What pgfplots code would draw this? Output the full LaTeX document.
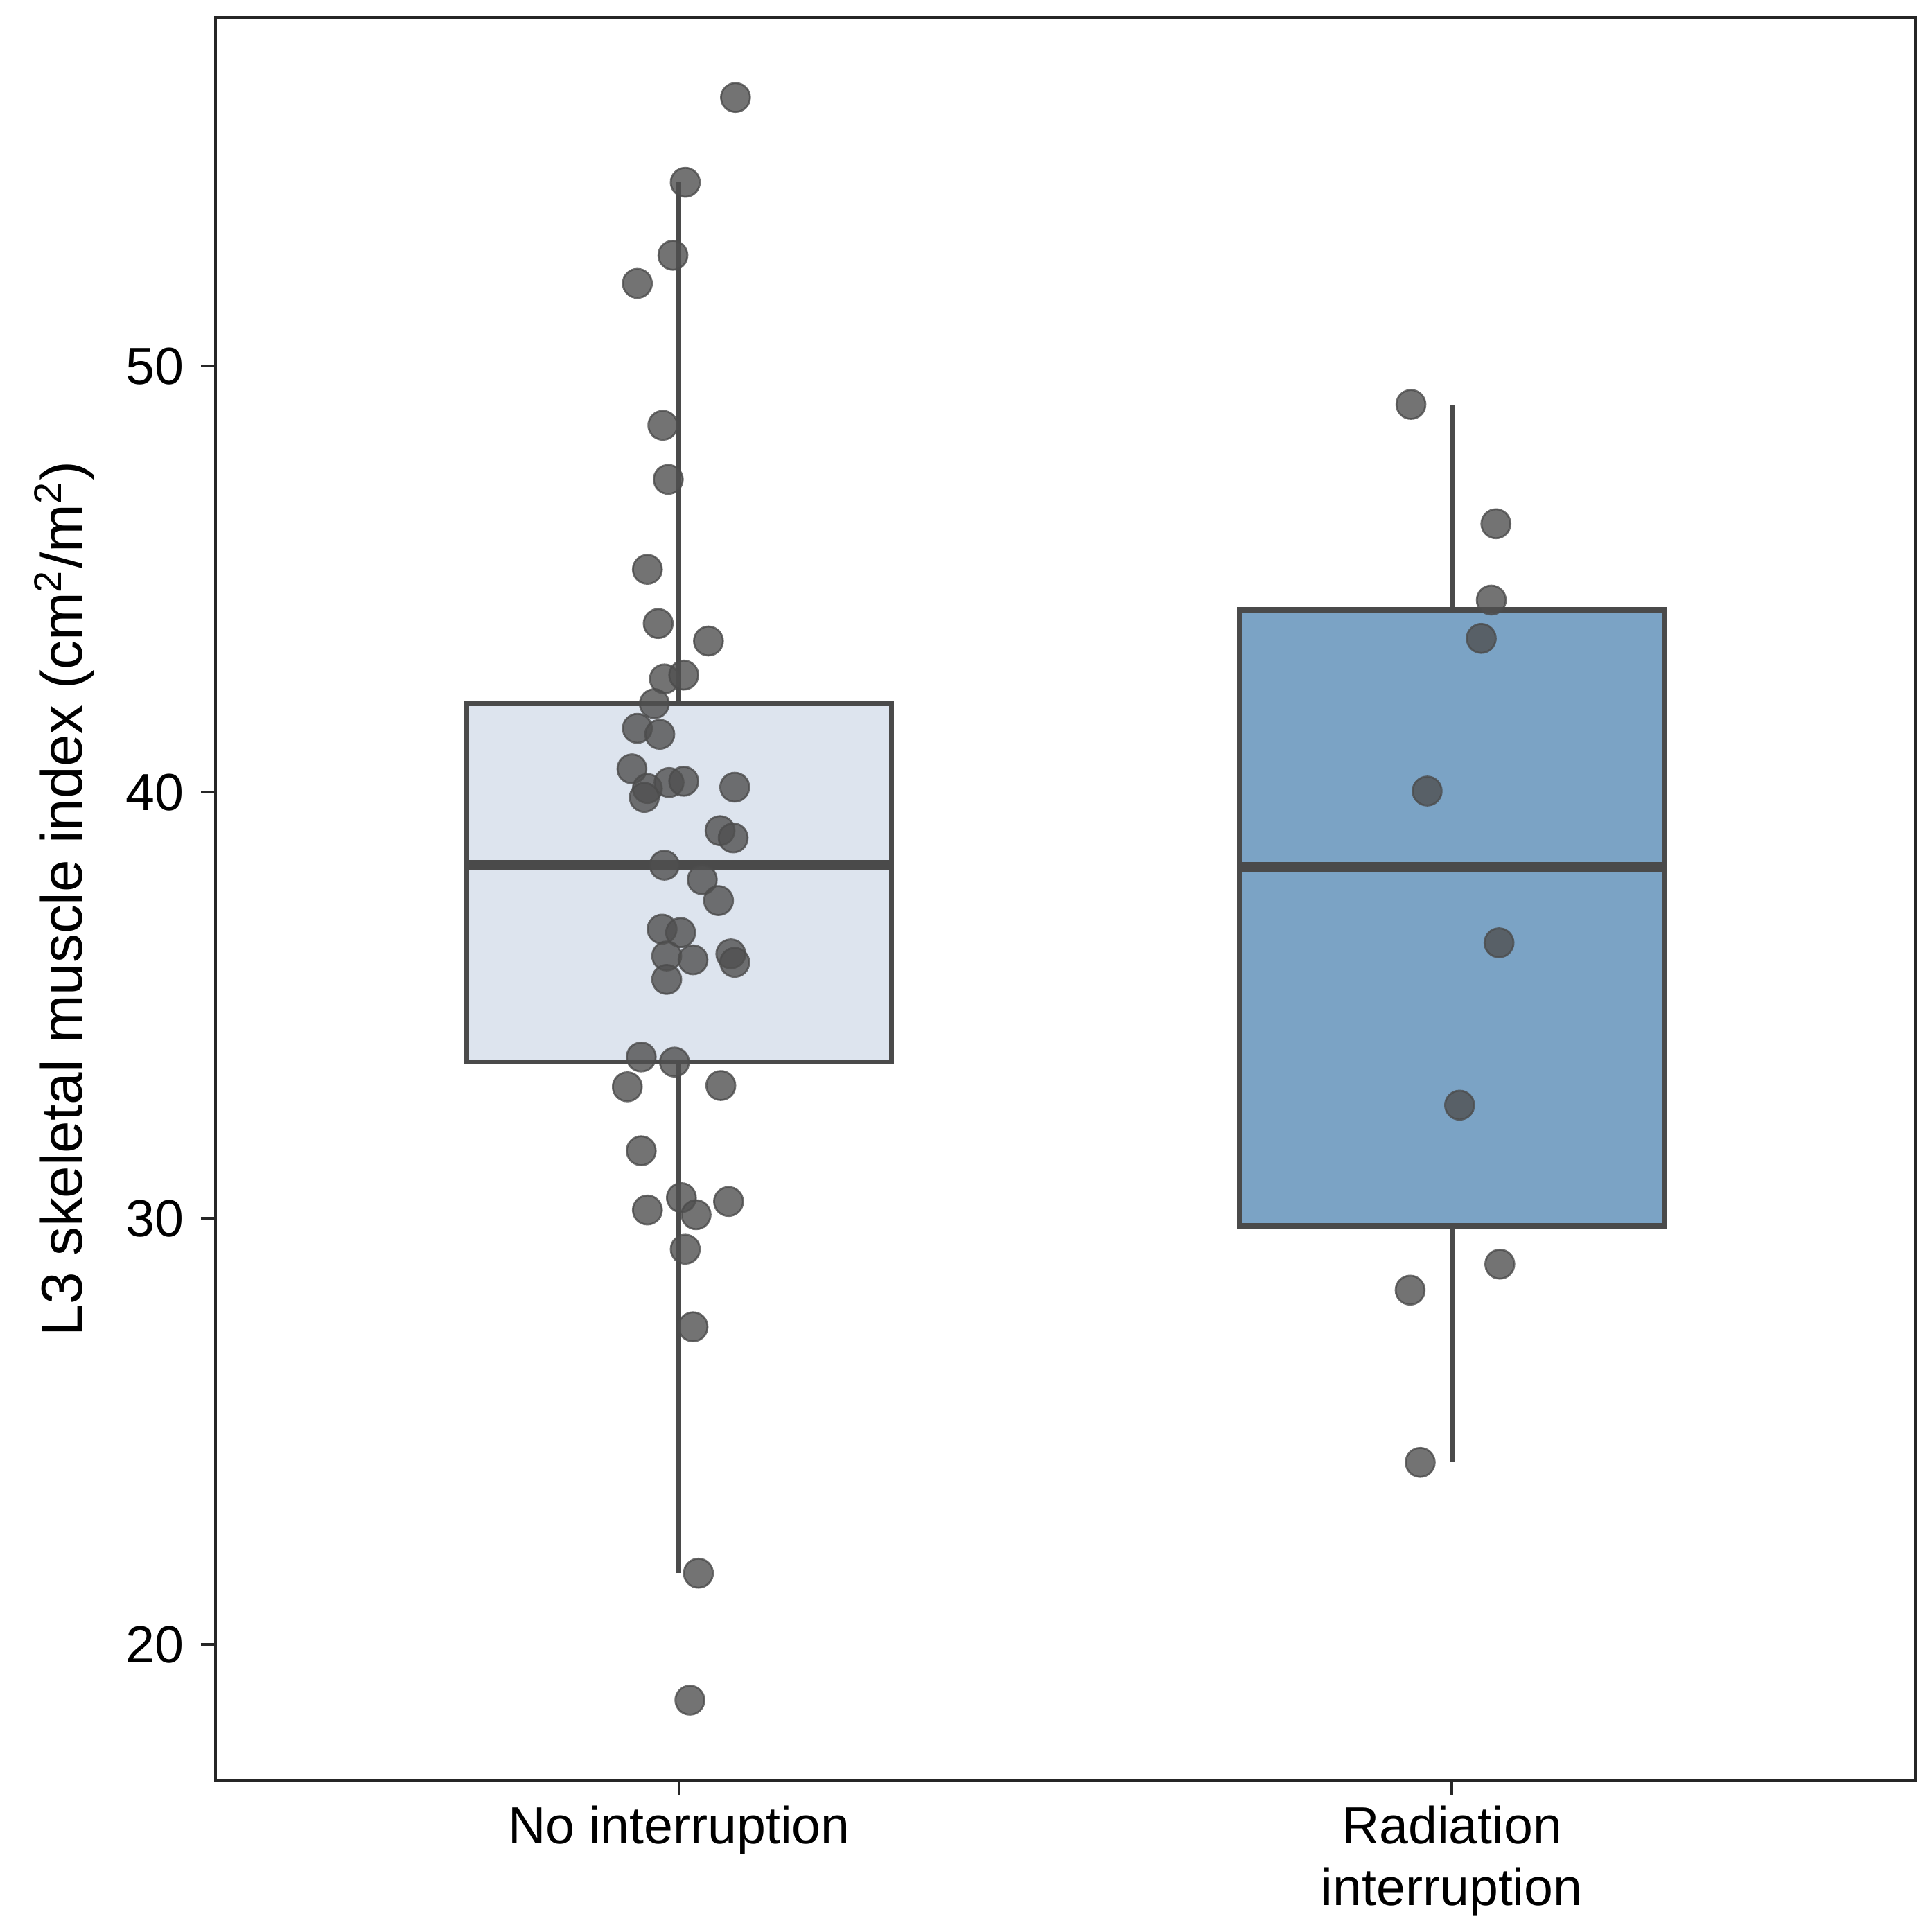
\documentclass[border=0pt]{standalone}
\usepackage{fontspec}
\setmainfont{Liberation Sans}
\usepackage{pgfplots}
\pgfplotsset{compat=1.18}
\definecolor{boxA}{HTML}{DDE4EE}
\definecolor{boxB}{HTML}{7BA3C5}
\definecolor{edge}{HTML}{4A4A4A}
\definecolor{pt}{HTML}{505050}
\begin{document}
\begin{tikzpicture}
\useasboundingbox (-44.6pt,-31.4pt) rectangle (355.4pt,368.6pt);
\begin{axis}[
  scale only axis,
  width=352pt, height=365pt,
  xmin=-0.6, xmax=1.6,
  ymin=16.82, ymax=58.18,
  xtick={0,1},
  xticklabels={No interruption,{Radiation\\interruption}},
  ytick={20,30,40,50},
  xtick pos=bottom, ytick pos=left,
  tick align=outside,
  major tick length=3pt,
  tick style={black!85, line width=0.6pt},
  axis line style={black!85, line width=0.6pt},
  /pgf/number format/assume math mode=true,
  ticklabel style={font=\fontsize{10.8}{12.8}\selectfont},
  xticklabel style={align=center, yshift=1.3pt},
  ylabel={L3 skeletal muscle index (cm\textsuperscript{2}/m\textsuperscript{2})},
  ylabel style={font=\fontsize{12}{14}\selectfont, at={(axis description cs:-0.089,0.5)}, anchor=center},
]
% group 1: No interruption
\addplot[draw=edge, line width=1pt] coordinates {(0,42.08) (0,54.31)};
\addplot[draw=edge, line width=1pt] coordinates {(0,21.68) (0,33.67)};
\addplot[draw=edge, fill=boxA, line width=1.05pt] coordinates {(-0.275,33.67) (0.275,33.67) (0.275,42.08) (-0.275,42.08)} -- cycle;
\addplot[draw=edge, line width=2.2pt] coordinates {(-0.275,38.29) (0.275,38.29)};
% group 2: Radiation interruption
\addplot[draw=edge, line width=1pt] coordinates {(1,44.28) (1,49.08)};
\addplot[draw=edge, line width=1pt] coordinates {(1,24.28) (1,29.83)};
\addplot[draw=edge, fill=boxB, line width=1.05pt] coordinates {(0.725,29.83) (1.275,29.83) (1.275,44.28) (0.725,44.28)} -- cycle;
\addplot[draw=edge, line width=2.2pt] coordinates {(0.725,38.24) (1.275,38.24)};
\addplot[only marks, mark=*, mark size=3pt, mark options={fill=pt, draw=black!70, line width=0.4pt, opacity=0.8}] table {
x y
0.073 56.30
0.008 54.31
-0.008 52.60
-0.054 51.94
-0.021 48.61
-0.014 47.34
-0.041 45.23
-0.027 43.96
0.038 43.55
-0.019 42.66
0.006 42.75
-0.032 42.08
-0.054 41.50
-0.025 41.36
-0.061 40.55
-0.041 40.09
-0.045 39.88
-0.013 40.23
0.006 40.26
0.072 40.12
0.053 39.10
0.070 38.93
-0.019 38.29
0.030 37.95
0.051 37.46
-0.022 36.79
0.002 36.71
-0.016 36.16
0.018 36.07
0.067 36.21
0.072 36.01
-0.016 35.61
-0.049 33.79
-0.006 33.67
-0.067 33.09
0.054 33.12
-0.049 31.59
-0.041 30.20
0.003 30.49
0.064 30.40
0.022 30.09
0.008 29.28
0.018 27.46
0.025 21.68
0.014 18.70
0.947 49.10
1.057 46.30
1.051 44.51
1.038 43.61
0.968 40.03
1.061 36.47
1.010 32.66
1.062 28.93
0.946 28.32
0.959 24.28
};
\end{axis}
\end{tikzpicture}
\end{document}
